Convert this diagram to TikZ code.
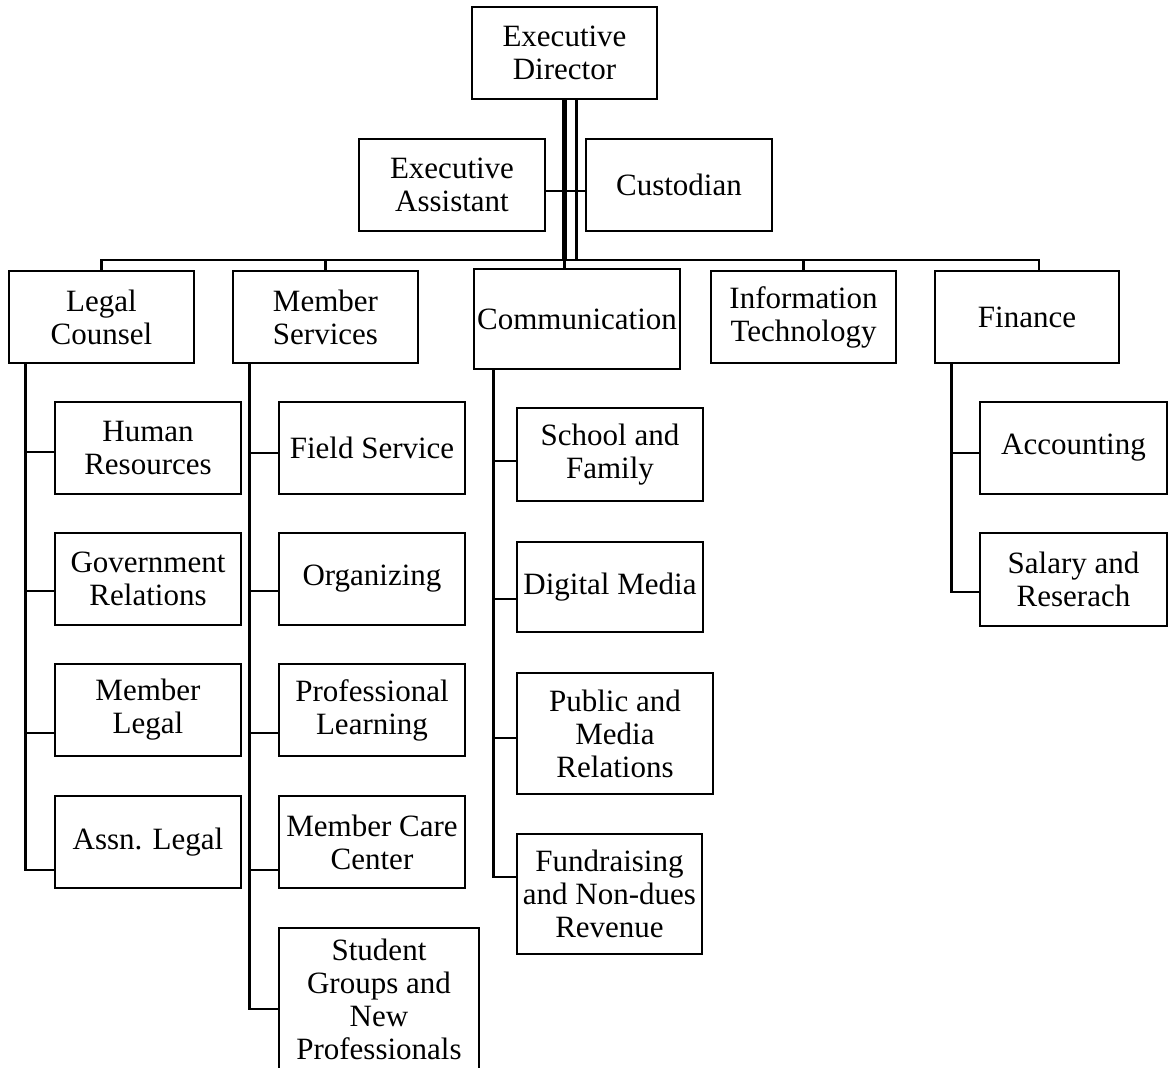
\documentclass[tikz,border=0pt]{standalone}
\usepackage{fontspec}
\setmainfont{Liberation Serif}
\usetikzlibrary{calc}

\tikzset{
  orgbox/.style={draw=black, line width=2.9pt, inner sep=0pt, align=center,
    font=\fontsize{31}{33}\selectfont},
  link/.style={draw=black, line width=2.5pt},
  mainlink/.style={draw=black, line width=5.5pt}
}

% \bx{name}{x1}{y1}{x2}{y2}{text}: a box given by its corners
\newcommand{\bx}[6]{%
  \node[orgbox, minimum width={(#4-#2)*1pt}, minimum height={(#5-#3)*1pt}]
    (#1) at ({(#2+#4)/2},{(#3+#5)/2}) {#6};}

\begin{document}
\begin{tikzpicture}[x=1pt, y=-1pt]
\useasboundingbox (0,0) rectangle (1170,1068);

% top level
\bx{ed}{472}{7}{657}{99}{Executive\\Director}
\bx{ea}{359}{139}{545}{231}{Executive\\Assistant}
\bx{cu}{586}{139}{772}{231}{Custodian}

% departments
\bx{lc}{9}{271}{194}{363}{Legal\\Counsel}
\bx{ms}{233}{271}{418}{363}{Member\\Services}
\bx{comm}{474}{269}{680}{369}{Communication}
\bx{it}{711}{271}{896}{363}{Information\\Technology}
\bx{fin}{935}{271}{1119}{363}{Finance}

% legal counsel units
\bx{hr}{55}{402}{241}{494}{Human\\Resources}
\bx{gr}{55}{533}{241}{625}{Government\\Relations}
\bx{ml}{55}{664}{241}{756}{Member\\Legal}
\bx{al}{55}{796}{241}{888}{Assn. Legal}

% member services units
\bx{fs}{279}{402}{465}{494}{Field Service}
\bx{org}{279}{533}{465}{625}{Organizing}
\bx{pl}{279}{664}{465}{756}{Professional\\Learning}
\bx{mcc}{279}{796}{465}{888}{Member Care\\Center}
\bx{sg}{279}{928}{479}{1070}{Student\\Groups and\\New\\Professionals}

% communication units
\bx{sf}{517}{408}{703}{501}{School and\\Family}
\bx{dm}{517}{542}{703}{632}{Digital Media}
\bx{pmr}{517}{673}{713}{794}{Public and\\Media\\Relations}
\bx{fr}{517}{834}{702}{954}{Fundraising\\and Non-dues\\Revenue}

% finance units
\bx{acc}{980}{402}{1167}{494}{Accounting}
\bx{sal}{980}{533}{1167}{626}{Salary and\\Reserach}

% executive director links
\coordinate (bus) at (ed.south |- 0,260);
\coordinate (edR) at ([xshift=12pt]ed.south);
\coordinate (finTop) at ([xshift=12pt]fin.north);
\draw[mainlink] (ed.south) -- (bus);
\draw[link] (edR) -- (edR |- 0,260);
\draw[link] (ea.east |- 0,191) -- (cu.west |- 0,191);

% department bus
\draw[link] (lc.north) |- (bus);
\draw[link] (ms.north) |- (bus);
\draw[link] (it.north) |- (bus);
\draw[link] (finTop) |- (bus);
\draw[link] (bus) -- (bus |- comm.north);

% unit trunks
\coordinate (lcT) at ([xshift=18pt]lc.south west);
\coordinate (msT) at ([xshift=18pt]ms.south west);
\coordinate (cmT) at ([xshift=21pt]comm.south west);
\coordinate (fnT) at ([xshift=18pt]fin.south west);

\draw[link] (lcT) |- (hr.west |- 0,452);
\draw[link] (lcT) |- (gr.west |- 0,591);
\draw[link] (lcT) |- (ml.west |- 0,733);
\draw[link] (lcT) |- (al.west |- 0,870);

\draw[link] (msT) |- (fs.west |- 0,453);
\draw[link] (msT) |- (org.west |- 0,591);
\draw[link] (msT) |- (pl.west |- 0,733);
\draw[link] (msT) |- (mcc.west |- 0,870);
\draw[link] (msT) |- (sg.west |- 0,1009);

\draw[link] (cmT) |- (sf.west |- 0,461);
\draw[link] (cmT) |- (dm.west |- 0,599);
\draw[link] (cmT) |- (pmr.west |- 0,738);
\draw[link] (cmT) |- (fr.west |- 0,877);

\draw[link] (fnT) |- (acc.west |- 0,453);
\draw[link] (fnT) |- (sal.west |- 0,592);
\end{tikzpicture}
\end{document}
